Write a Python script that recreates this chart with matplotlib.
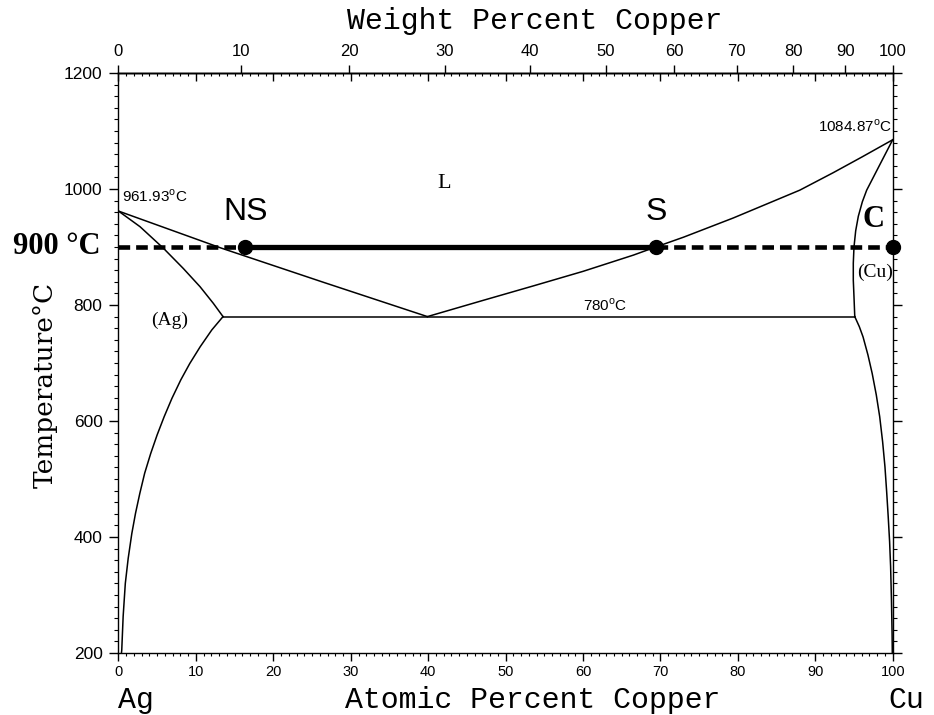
import matplotlib
matplotlib.use('Agg')
import matplotlib.pyplot as plt
import numpy as np

plt.rcParams['lines.scale_dashes'] = False

# ── data (atomic % Cu, temperature °C) ──
liq_ag_x = [0, 13.3, 26.5, 39.9]
liq_ag_t = [961.93, 898, 839, 780]
sol_ag_x = [0, 2.78, 5.79, 8.37, 10.53, 12.24, 13.5]
sol_ag_t = [961.93, 935, 898, 863, 831.6, 803, 780]
solv_ag_x = [13.5, 12.05, 10.55, 9.2, 8.05, 6.9, 5.9, 4.99, 4.16, 3.38, 2.75,
             2.2, 1.72, 1.25, 0.88, 0.6, 0.42, 0.38]
solv_ag_t = [780, 757, 728, 699, 671, 639, 607.5, 576, 544, 510, 475,
             441, 406, 363, 320, 263, 205, 200]

liq_cu_x = [39.9, 47.1, 53.6, 60.0, 66.5, 69.4, 73.0, 79.4, 83.7, 88.0,
            92.3, 96.0, 100]
liq_cu_t = [780, 808, 833, 858, 886, 900, 917, 950, 974, 998,
            1028, 1055, 1084.87]
sol_cu_x = [100, 98.3, 96.64, 96.08, 95.56, 95.22, 95.0, 94.91, 94.91, 95.0, 95.1]
sol_cu_t = [1084.87, 1041, 998, 978, 953, 928, 900, 872, 843, 814, 780]
solv_cu_x = [95.1, 95.69, 96.17, 96.8, 97.35, 97.88, 98.32, 98.7, 99.0, 99.22,
             99.42, 99.6, 99.73, 99.84, 99.92, 99.95]
solv_cu_t = [780, 762.6, 745, 714, 682, 645, 607.5, 564, 521, 478,
             435, 392, 349, 291, 234, 200]

eut_x = [13.5, 95.1]
eut_t = [780, 780]

iso_t = 900
ns_x, s_x, c_x = 16.4, 69.4, 100

wt_ticks = [0, 10, 20, 30, 40, 50, 60, 70, 80, 90, 100]
M_CU, M_AG = 63.546, 107.868


def wt_to_at(w):
    w = np.asarray(w, dtype=float)
    a = w / M_CU
    b = (100 - w) / M_AG
    return 100 * a / (a + b)


fig = plt.figure(figsize=(9.34, 7.15), dpi=100)
ax = fig.add_axes([118.5 / 934, 1 - 653 / 715, (892.7 - 118.5) / 934, 580 / 715])

lw = 1.1
for xs, ts in [(liq_ag_x, liq_ag_t), (sol_ag_x, sol_ag_t), (solv_ag_x, solv_ag_t),
               (liq_cu_x, liq_cu_t), (sol_cu_x, sol_cu_t), (solv_cu_x, solv_cu_t),
               (eut_x, eut_t)]:
    ax.plot(xs, ts, color='black', lw=lw, solid_joinstyle='round')

# 900 °C isotherm
ax.plot([0, ns_x], [iso_t, iso_t], color='black', lw=3.3, linestyle=(0, (8.4, 4.3)))
ax.plot([s_x, c_x], [iso_t, iso_t], color='black', lw=3.3, linestyle=(0, (8.4, 4.3)), clip_on=False)
ax.plot([ns_x, s_x], [iso_t, iso_t], color='black', lw=3.8)
ax.plot([ns_x, s_x, c_x], [iso_t] * 3, 'o', color='black', ms=10, clip_on=False, zorder=5)

ax.set_xlim(0, 100)
ax.set_ylim(200, 1200)

for sp in ax.spines.values():
    sp.set_linewidth(1.0)

ax.set_xticks(np.arange(0, 101, 10))
ax.set_xticks(np.arange(0, 101, 1), minor=True)
ax.set_yticks(np.arange(200, 1201, 200))
ax.set_yticks(np.arange(200, 1201, 20), minor=True)
ax.tick_params(axis='x', which='major', direction='out', length=6, width=1.0,
               labelsize=10.5, pad=3)
ax.tick_params(axis='x', which='minor', direction='out', length=2.5, width=0.8)
ax.tick_params(axis='y', which='major', direction='out', length=6.5, width=1.0,
               labelsize=12.5, pad=5, left=True, right=True)
ax.tick_params(axis='y', which='minor', direction='out', length=2.8, width=0.8,
               left=True, right=True)
for lab in ax.get_xticklabels() + ax.get_yticklabels():
    lab.set_family('Liberation Sans')

# top: atomic % ticks pointing in
top_in = ax.secondary_xaxis('top')
top_in.set_xticks(np.arange(0, 101, 10))
top_in.set_xticks(np.arange(0, 101, 1), minor=True)
top_in.tick_params(which='major', direction='in', length=6, width=1.0, labeltop=False)
top_in.tick_params(which='minor', direction='in', length=2.5, width=0.8)
top_in.spines['top'].set_linewidth(1.0)

# top: weight % ticks pointing out
top_wt = ax.secondary_xaxis('top')
top_wt.set_xticks(wt_to_at(wt_ticks))
top_wt.set_xticklabels([str(w) for w in wt_ticks], family='Liberation Sans', fontsize=12)
top_wt.xaxis.set_minor_locator(matplotlib.ticker.NullLocator())
top_wt.tick_params(which='major', direction='out', length=6, width=1.0, pad=4)
top_wt.spines['top'].set_linewidth(1.0)

mono = 'Liberation Mono'
ax.text(53.8, 1.09, 'Weight Percent Copper', transform=ax.get_xaxis_transform(),
        ha='center', va='center', family=mono, fontsize=21.5)
ax.text(53.5, -0.081, 'Atomic Percent Copper', transform=ax.get_xaxis_transform(),
        ha='center', va='center', family=mono, fontsize=21.5)
ax.text(0, -0.081, 'Ag', transform=ax.get_xaxis_transform(),
        ha='left', va='center', family=mono, fontsize=21.5)
ax.text(99.4, -0.081, 'Cu', transform=ax.get_xaxis_transform(),
        ha='left', va='center', family=mono, fontsize=21.5)

fig.text(45 / 934, 1 - 385 / 715, 'Temperature°C', rotation=90, ha='center', va='center',
         family='DejaVu Serif', fontsize=19)

ax.text(-2.3, iso_t, '900 °C', ha='right', va='center', family='Liberation Serif',
        fontweight='bold', fontsize=22, clip_on=False)

ax.text(ns_x, 935, 'NS', ha='center', va='bottom', family='Liberation Sans', fontsize=23)
ax.text(s_x, 935, 'S', ha='center', va='bottom', family='Liberation Sans', fontsize=23)
ax.text(97.5, 922, 'C', ha='center', va='bottom', family='Liberation Serif',
        fontweight='bold', fontsize=22)
ax.text(42, 1010, 'L', ha='center', va='center', family='Liberation Serif', fontsize=16)
ax.text(6.65, 774, '(Ag)', ha='center', va='center', family='Liberation Serif', fontsize=14)
ax.text(97.66, 857, '(Cu)', ha='center', va='center', family='Liberation Serif', fontsize=14)

small = dict(family='Liberation Sans', fontsize=11)
ax.text(0.4, 973, r'961.93$^{\mathregular{o}}$C', ha='left', va='bottom', **small)
ax.text(99.9, 1093, r'1084.87$^{\mathregular{o}}$C', ha='right', va='bottom', **small)
ax.text(62.8, 785, r'780$^{\mathregular{o}}$C', ha='center', va='bottom', **small)

fig.savefig('out.png', dpi=100)
